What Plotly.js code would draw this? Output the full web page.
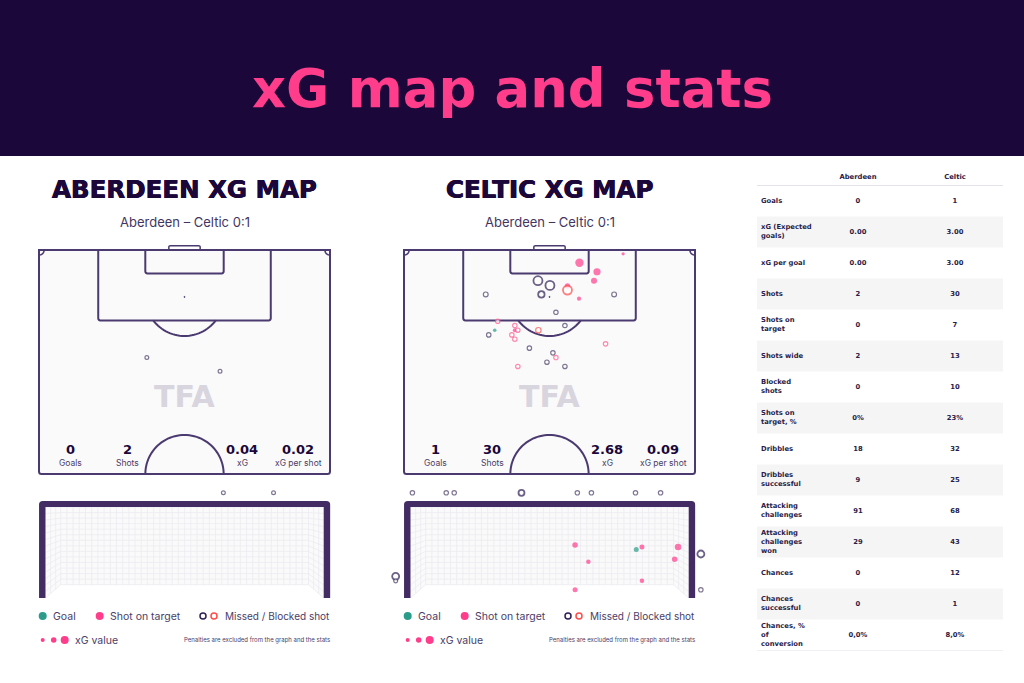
<!DOCTYPE html>
<html><head><meta charset="utf-8">
<script src="https://cdn.plot.ly/plotly-3.0.1.min.js"></script>
<style>html,body{margin:0;padding:0;background:#fff}#c{width:1024px;height:683px}</style>
</head><body><div id="c"></div>
<script>
// ---------- DATA ----------
const teams = ['Aberdeen','Celtic'];
const panelTitles = ['ABERDEEN XG MAP','CELTIC XG MAP'];
const matchLabel = 'Aberdeen – Celtic 0:1';
const statLabels = ['Goals','Shots','xG','xG per shot'];
const aberdeenStats = ['0','2','0.04','0.02'];
const celticStats = ['1','30','2.68','0.09'];

// shot locations: metres across pitch, metres from goal line, xG
const abMissX = [25.2,42.3];
const abMissY = [25.2,28.4];
const abMissXg = [0.02,0.02];

const ceGoalX = [21.2];
const ceGoalY = [18.8];
const ceGoalXg = [0.03];
const ceTargetX = [41.0,45.1,44.4,38.2,40.9,51.2,25.9];
const ceTargetY = [3.0,5.1,7.2,8.4,11.4,0.9,18.8];
const ceTargetXg = [0.27,0.21,0.15,0.12,0.06,0.01,0.05];
const ceDarkX = [31.3,34.1,32.1,19.1,49.1,35.5,37.6,19.8,29.3,34.8,33.4,37.6];
const ceDarkY = [7.2,8.3,10.4,10.4,10.4,14.6,17.7,19.9,23.0,24.1,26.3,27.3];
const ceDarkXg = [0.30,0.30,0.17,0.07,0.07,0.05,0.05,0.05,0.05,0.05,0.05,0.05];
const ceRedX = [38.2,31.4,21.9,25.9,26.6,25.2,25.9,47.1,35.5,26.6];
const ceRedY = [9.4,18.8,16.7,17.7,18.8,19.9,20.9,22.0,25.2,27.3];
const ceRedXg = [0.30,0.12,0.05,0.05,0.05,0.05,0.05,0.05,0.05,0.05];

// shot end points in goal frame: metres from left post, metres above ground, xG
const abGoalMissX = [4.68,6.0];
const abGoalMissY = [2.82,2.82];
const abGoalMissXg = [0.02,0.02];
const ceGoalViewX = [5.94];
const ceGoalViewY = [1.30];
const ceGoalViewXg = [0.1];
const ceOnFrameX = [4.33,4.68,6.09,7.04,6.95,6.09,4.33];
const ceOnFrameY = [1.42,0.97,1.37,1.37,1.04,0.46,0.22];
const ceOnFrameXg = [0.125,0.075,0.1,0.175,0.125,0.075,0.1];
const ceOffX = [0.05,0.94,1.15,2.92,4.39,4.76,5.92,6.58,-0.39,-0.39,7.64,7.64];
const ceOffY = [2.82,2.82,2.82,2.82,2.82,2.82,2.82,2.82,0.58,0.46,1.18,0.22];
const ceOffXg = [0.05,0.05,0.05,0.15,0.05,0.05,0.05,0.05,0.2,0.03,0.2,0.05];

// stats table
const rowLabels = ['Goals','xG (Expected<br>goals)','xG per goal','Shots','Shots on<br>target','Shots wide','Blocked<br>shots','Shots on<br>target, %','Dribbles','Dribbles<br>successful','Attacking<br>challenges','Attacking<br>challenges<br>won','Chances','Chances<br>successful','Chances, %<br>of<br>conversion'];
const rowAberdeen = ['0','0.00','0.00','2','0','2','0','0%','18','9','91','29','0','0','0,0%'];
const rowCeltic = ['1','3.00','3.00','30','7','13','10','23%','32','25','68','43','12','1','8,0%'];

// ---------- STYLE ----------
const NAVY='#1b073a', LINE='#4b3a70', PINK='#ff3d8b', RED='#ff4d4a', TEAL='#2a9d8a', DARK='#2f1f55', DARKSM='#4a3d68', TXT='#4a3d68';
const BODY='Inter, "Noto Sans", sans-serif';
const HEAVY='"DejaVu Sans", sans-serif';
const W=1024,H=683;
const px=x=>x/W, py=y=>1-y/H;
const sz=g=>3+20*g;
const ann=[], shp=[], tr=[];
function T(x,y,text,size,color,anchor,weight,family,shadow){
  const font={size,color:color||TXT,family:family||BODY,weight:weight||400};
  if(shadow) font.shadow=shadow;
  ann.push({xref:'paper',yref:'paper',x:px(x),y:py(y),text,showarrow:false,xanchor:anchor||'center',yanchor:'middle',font,borderpad:0,borderwidth:0});
}
function dot(x,y,d,fill,line,lw){
  shp.push({type:'circle',xref:'paper',yref:'paper',x0:px(x-d/2),x1:px(x+d/2),y0:py(y-d/2),y1:py(y+d/2),
    fillcolor:fill,line:{color:line||fill,width:lw||0},layer:'above'});
}
function P(ax,path,color,width,fill,layer){
  shp.push({type:'path',xref:'x'+ax,yref:'y'+ax,path,line:{color:color||'rgba(0,0,0,0)',width:width||0},fillcolor:fill||'rgba(0,0,0,0)',layer:layer||'below'});
}
function arc(cx,cy,r,a0,a1,n){
  let s='';
  for(let i=0;i<=n;i++){const a=(a0+(a1-a0)*i/n)*Math.PI/180;
    s+=(i?'L':'M')+(cx+r*Math.cos(a)).toFixed(3)+' '+(cy+r*Math.sin(a)).toFixed(3);}
  return s;
}
function rectR(x0,y0,x1,y1,r,openTop){
  return 'M'+x0+' '+y0+'L'+x0+' '+(y1-r)+'Q'+x0+' '+y1+' '+(x0+r)+' '+y1+'L'+(x1-r)+' '+y1+'Q'+x1+' '+y1+' '+x1+' '+(y1-r)+'L'+x1+' '+y0+(openTop?'':'Z');
}
function pitch(ax){
  const lw=2;
  P(ax,rectR(0,0,68,52.5,0.6)+'Z',LINE,lw,'#fafafa');
  P(ax,rectR(13.84,0,54.16,16.5,0.5,true),LINE,lw);
  P(ax,rectR(24.84,0,43.16,5.5,0.5,true),LINE,lw);
  P(ax,'M30.34 0L30.34 -0.75Q30.34 -1 30.7 -1L37.3 -1Q37.66 -1 37.66 -0.75L37.66 0',LINE,1.5);
  const t=Math.asin(5.5/9.15)*180/Math.PI;
  P(ax,arc(34,11,9.15,t,180-t,30),LINE,lw);
  P(ax,arc(34,52.5,9.15,180,360,50),LINE,lw);
  P(ax,arc(0,0,1.2,0,90,10),LINE,1.5);
  P(ax,arc(68,0,1.2,90,180,10),LINE,1.5);
  P(ax,arc(34,11,0.12,0,360,12)+'Z',LINE,1,LINE);
}
function goal(ax){
  const wl=0.4,wr=6.92,fl=0.357,top=2.44;
  P(ax,'M0 0L'+wl+' '+fl+'L'+wr+' '+fl+'L7.32 0L7.32 '+top+'L0 '+top+'Z','rgba(0,0,0,0)',0,'#fafafa');
  let g='';
  for(let x=wl;x<=wr+0.001;x+=(wr-wl)/40) g+='M'+x.toFixed(3)+' '+fl+'L'+x.toFixed(3)+' '+top;
  for(let y=top;y>=fl-0.001;y-=(top-fl)/14){
    const yo=top-(top-y)*top/(top-fl);
    g+='M0 '+yo.toFixed(3)+'L'+wl+' '+y.toFixed(3)+'L'+wr+' '+y.toFixed(3)+'L7.32 '+yo.toFixed(3);
  }
  for(let k=1;k<=2;k++){const f=k/3,x=wl*f,b=fl*f;
    g+='M'+x.toFixed(3)+' '+b.toFixed(3)+'L'+x.toFixed(3)+' '+top;
    g+='M'+(7.32-x).toFixed(3)+' '+b.toFixed(3)+'L'+(7.32-x).toFixed(3)+' '+top;}
  P(ax,g,'#ecebf0',0.8);
  const o=0.17,oy=0.16;
  P(ax,'M'+(-o)+' 0L'+(-o)+' '+(top+oy-0.1)+'Q'+(-o)+' '+(top+oy)+' '+(-o+0.1)+' '+(top+oy)+
       'L'+(7.32+o-0.1)+' '+(top+oy)+'Q'+(7.32+o)+' '+(top+oy)+' '+(7.32+o)+' '+(top+oy-0.1)+
       'L'+(7.32+o)+' 0L7.32 0L7.32 '+top+'L0 '+top+'L0 0Z','rgba(0,0,0,0)',0,'#432c63','below');
}
function shots(ax,x,y,g,kind){
  const ring=kind==='ring'||kind==='redring';
  const col=kind==='goal'?TEAL:PINK;
  const lc=kind==='redring'?g.map(v=>v>=0.1?RED:'#ff5a90'):kind==='ring'?g.map(v=>v>=0.1?DARK:DARKSM):col;
  tr.push({type:'scatter',mode:'markers',xaxis:'x'+ax,yaxis:'y'+ax,x,y,cliponaxis:false,hoverinfo:'skip',showlegend:false,
    marker:{symbol:'circle',size:g.map(v=>sz(v)+(ring&&v<0.1?0.4:0)),color:ring?'#ffffff':col,
      line:{color:lc,width:ring?g.map(v=>v>=0.15?1.8:1.2):0}}});
}
// page frame
shp.push({type:'rect',xref:'paper',yref:'paper',x0:0,x1:1,y0:py(156),y1:1,fillcolor:NAVY,line:{width:0},layer:'below'});
T(512,88,'xG map and stats',52.8,PINK,'center',700,HEAVY);

[0,1].forEach(i=>{
  const dx=i*365, cx=184.5+dx, ax=i?'2':'', gx=i?'4':'3';
  const vals=i?celticStats:aberdeenStats;
  pitch(ax); goal(gx);
  T(cx,189,panelTitles[i],24.5,NAVY,'center',700,HEAVY,'0.4px 0 0 '+NAVY+', -0.4px 0 0 '+NAVY);
  T(cx+0.5,222,matchLabel,13,'#43355f');
  T(cx,396,'TFA',30,'#d8d5df','center',800,HEAVY);
  const xs=[70,127,242,298];
  xs.forEach((x,k)=>{
    T(x+dx,449,vals[k],13,NAVY,'center',700,HEAVY);
    T(x+dx,463,statLabels[k],8.5,'#4a3d68');
  });
  // legend
  dot(42.7+dx,616,8,TEAL);
  T(52.7+dx,616,'Goal',10.5,TXT,'left');
  dot(99.7+dx,616,8,PINK);
  T(109.7+dx,616,'Shot on target',10.5,TXT,'left');
  dot(203+dx,616,6,'#fff',DARK,1.5);
  dot(214+dx,616,6,'#fff',RED,1.5);
  T(330+dx,616,'Missed / Blocked shot',10,TXT,'right');
  dot(42.7+dx,640,4,PINK); dot(53.7+dx,640,5.5,PINK); dot(64.7+dx,640,8,PINK);
  T(75.3+dx,640,'xG value',10.5,TXT,'left');
  T(330+dx,640,'Penalties are excluded from the graph and the stats',6,TXT,'right');
});

// Aberdeen
shots('',abMissX,abMissY,abMissXg,'ring');
shots('3',abGoalMissX,abGoalMissY,abGoalMissXg,'ring');
// Celtic pitch
shots('2',ceDarkX,ceDarkY,ceDarkXg,'ring');
shots('2',ceTargetX,ceTargetY,ceTargetXg,'target');
shots('2',ceRedX,ceRedY,ceRedXg,'redring');
shots('2',ceGoalX,ceGoalY,ceGoalXg,'goal');
// Celtic goal
shots('4',ceOffX,ceOffY,ceOffXg,'ring');
shots('4',ceOnFrameX,ceOnFrameY,ceOnFrameXg,'target');
shots('4',ceGoalViewX,ceGoalViewY,ceGoalViewXg,'goal');

// table
rowLabels.forEach((_,i)=>{
  if(i%2===1) shp.push({type:'rect',xref:'x5',yref:'y5',x0:-0.0412,x1:2.495,y0:i-0.5,y1:i+0.5,fillcolor:'#f5f5f6',line:{width:0},layer:'below'});
});
[-0.5,14.5].forEach(y=>shp.push({type:'line',xref:'x5',yref:'y5',x0:-0.0412,x1:2.495,y0:y,y1:y,line:{color:'#e4e2ea',width:1},layer:'below'}));
const rowIdx=rowLabels.map((_,i)=>i);
const tf={size:6.8,color:'#2a1c48',family:'"DejaVu Sans", sans-serif',weight:700};
function col(x,text,pos,f){
  tr.push({type:'scatter',mode:'text',xaxis:'x5',yaxis:'y5',x:text.map(()=>x),y:rowIdx,text,textposition:pos,textfont:f,cliponaxis:false,hoverinfo:'skip',showlegend:false});
}
col(0,rowLabels,'middle right',tf);
col(1,rowAberdeen,'middle center',tf);
col(2,rowCeltic,'middle center',tf);
teams.forEach((t,i)=>tr.push({type:'scatter',mode:'text',xaxis:'x5',yaxis:'y5',x:[i+1],y:[-0.75],text:[t],textposition:'middle center',textfont:tf,cliponaxis:false,hoverinfo:'skip',showlegend:false}));

const hid={visible:false,fixedrange:true,showgrid:false,zeroline:false};
const dxf=(a,b)=>[a/W,b/W], dyf=(a,b)=>[1-b/H,1-a/H];
// pitch: 4.28 px/m horizontally, 4.267 px/m vertically; goal: 38 px/m, 37.3 px/m
const pitchY={...hid,domain:dyf(244,477),range:[53.2,-1.406]};
const goalY={...hid,domain:dyf(486.1,598),range:[0,3]};
const layout={
  width:W,height:H,margin:{l:0,r:0,t:0,b:0},paper_bgcolor:'#fff',plot_bgcolor:'rgba(0,0,0,0)',showlegend:false,
  xaxis:{...hid,domain:dxf(36,333),range:[-0.701,68.701]},
  yaxis:{...pitchY},
  xaxis2:{...hid,domain:dxf(401,698),range:[-0.701,68.701]},
  yaxis2:{...pitchY},
  xaxis3:{...hid,domain:dxf(22.7,346.5),range:[-0.6,7.92]},
  yaxis3:{...goalY},
  xaxis4:{...hid,domain:dxf(387.7,711.5),range:[-0.6,7.92]},
  yaxis4:{...goalY},
  xaxis5:{...hid,domain:dxf(757,1003),range:[-0.0412,2.495]},
  yaxis5:{...hid,domain:dyf(170,650.5),range:[14.5,-1]},
  shapes:shp,annotations:ann
};
Plotly.newPlot('c',tr,layout,{staticPlot:true,displayModeBar:false});
</script></body></html>
